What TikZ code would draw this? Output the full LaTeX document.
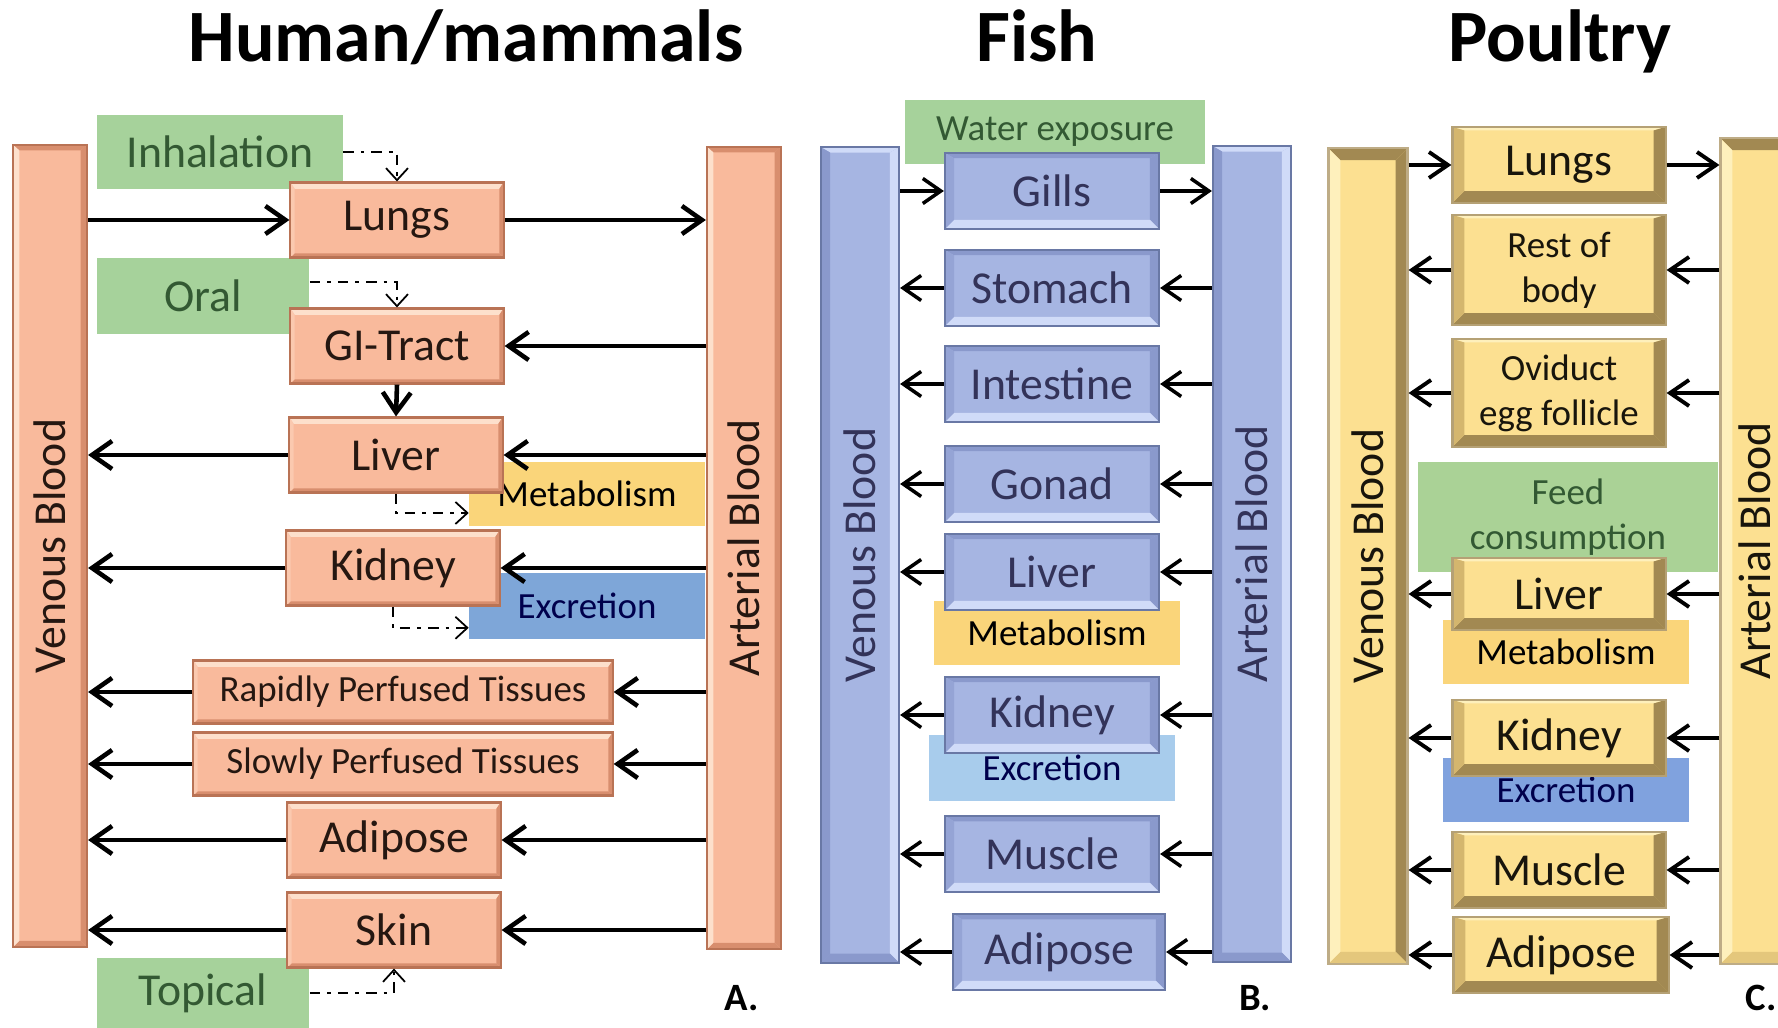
\documentclass[tikz,border=0pt]{standalone}
\usepackage{fontspec}
\setmainfont{Carlito}
\usepackage{tikz}
\usetikzlibrary{arrows.meta}

\definecolor{salmon}{RGB}{249,186,156}
\definecolor{salmonL}{RGB}{253,224,204}
\definecolor{salmonD}{RGB}{216,142,110}
\definecolor{salmonE}{RGB}{185,115,85}
\definecolor{leaf}{RGB}{166,210,155}
\definecolor{feed}{RGB}{170,210,150}
\definecolor{metab}{RGB}{250,213,122}
\definecolor{excr}{RGB}{126,166,216}
\definecolor{excrL}{RGB}{168,204,236}
\definecolor{excrC}{RGB}{128,162,222}
\definecolor{fishB}{RGB}{166,181,226}
\definecolor{fishL}{RGB}{208,219,248}
\definecolor{fishD}{RGB}{138,153,204}
\definecolor{fishE}{RGB}{105,120,165}
\definecolor{hen}{RGB}{252,224,145}
\definecolor{henL}{RGB}{254,240,188}
\definecolor{henM}{RGB}{212,182,110}
\definecolor{henD}{RGB}{162,137,82}

% bevel: top depth, side depth, top / right / bottom / left colours
\newcommand{\bevel}[6]{%
  \coordinate (bw) at (path picture bounding box.north west);
  \coordinate (be) at (path picture bounding box.north east);
  \coordinate (bs) at (path picture bounding box.south east);
  \coordinate (bv) at (path picture bounding box.south west);
  \fill[#3] (bw) -- (be) -- ([shift={(-#2,-#1)}]be) -- ([shift={(#2,-#1)}]bw) -- cycle;
  \fill[#4] (be) -- (bs) -- ([shift={(-#2,#2)}]bs) -- ([shift={(-#2,-#1)}]be) -- cycle;
  \fill[#5] (bs) -- (bv) -- ([shift={(#2,#2)}]bv) -- ([shift={(-#2,#2)}]bs) -- cycle;
  \fill[#6] (bv) -- (bw) -- ([shift={(#2,-#1)}]bw) -- ([shift={(#2,#2)}]bv) -- cycle;}

\begin{document}
\begin{tikzpicture}[x=0.01cm, y=-0.01cm,
    title/.style={font=\bfseries\fontsize{21}{25}\selectfont, anchor=base},
    panel/.style={font=\bfseries\fontsize{11}{13}\selectfont},
    big/.style={font=\fontsize{13}{15}\selectfont},
    small/.style={font=\fontsize{10.5}{12.8}\selectfont},
    organ/.style={rectangle, draw, line width=0.6pt, inner sep=1pt, align=center, big},
    boxA/.style={organ, fill=salmon, draw=salmonE, text=black!80!salmonE,
      minimum width=2.13cm, minimum height=0.75cm,
      path picture={\bevel{1.8pt}{1.2pt}{salmonL}{salmonD}{salmonD}{salmon!60!salmonL}}},
    boxB/.style={organ, fill=fishB, draw=fishE, text=black!75!blue!60!gray,
      minimum width=2.14cm, minimum height=0.76cm,
      path picture={\bevel{1.5pt}{2.6pt}{fishD}{fishD}{fishL}{fishD!60!fishB}}},
    boxC/.style={organ, fill=hen, draw=henD!80, text=black!85!henD,
      minimum width=2.13cm, minimum height=0.76cm,
      path picture={\bevel{1pt}{3.4pt}{henL}{henD}{henD}{henM}}},
    bar/.style={rectangle, draw, line width=0.6pt, inner sep=0pt, big},
    barA/.style={bar, fill=salmon, draw=salmonE, text=black!80!salmonE,
      minimum width=0.74cm, minimum height=8.02cm,
      path picture={\bevel{1.6pt}{1.8pt}{salmonD}{salmonD}{salmonD}{salmonL}}},
    barB/.style={bar, fill=fishB, draw=fishE, text=black!75!blue!60!gray,
      minimum width=0.78cm, minimum height=8.15cm,
      path picture={\bevel{1.5pt}{2.6pt}{fishL}{fishL}{fishD}{fishD}}},
    barC/.style={bar, fill=hen, draw=henD!70, text=black!85!henD,
      minimum width=0.79cm, minimum height=8.15cm,
      path picture={\bevel{3.4pt}{3.4pt}{henD}{henD}{henM!60!hen}{henL}}},
    route/.style={rectangle, fill=leaf, inner sep=1pt, align=center, text=black!75!green!60!gray, big},
    note/.style={rectangle, inner sep=1pt, align=center, small},
    arrA/.style={-{Straight Barb[length=2mm,width=2.8mm]}, line width=1.3pt},
    arrB/.style={-{Straight Barb[length=1.8mm,width=2.5mm]}, line width=1pt},
    arrC/.style={-{Straight Barb[length=1.9mm,width=2.6mm]}, line width=1.1pt},
    dashA/.style={-{Straight Barb[length=1.2mm,width=2.2mm]}, line width=0.5pt,
      dash pattern=on 3pt off 2pt on 1pt off 2pt}
]
\useasboundingbox (0,0) rectangle (1778,1028);

%% A : human / mammals
\node[title] (tA) at (466,62) {Human/mammals};
\node[barA] (venA) at (50,546) {\rotatebox{90}{Venous Blood}};
\node[barA] (artA) at (744,548) {\rotatebox{90}{Arterial Blood}};
\node[route, minimum width=2.45cm, minimum height=0.73cm] (inh) at (220,152) {Inhalation};
\node[route, minimum width=2.12cm, minimum height=0.75cm] (oral) at (203,296) {Oral};
\node[route, minimum width=2.12cm, minimum height=0.70cm] (topic) at (203,993) {Topical};
\node[note, fill=metab, minimum width=2.35cm, minimum height=0.63cm] (metA) at (587,494) {Metabolism};
\node[note, fill=excr, text=black!70!blue, minimum width=2.35cm, minimum height=0.65cm] (excA) at (587,606) {Excretion};
\node[boxA] (lungsA) at (397,220) {Lungs};
\node[boxA] (giA) at (397,346) {GI-Tract};
\node[boxA] (liverA) at (396,455) {Liver};
\node[boxA] (kidA) at (393,568) {Kidney};
\node[boxA, small, minimum width=4.19cm, minimum height=0.63cm] (rptA) at (403,692) {Rapidly Perfused Tissues};
\node[boxA, small, minimum width=4.19cm, minimum height=0.63cm] (sptA) at (403,764) {Slowly Perfused Tissues};
\node[boxA] (adiA) at (394,840) {Adipose};
\node[boxA] (skinA) at (394,930) {Skin};
\node[panel] (labA) at (742,998) {A.};

\draw[arrA] (venA.east |- lungsA.west) -- (lungsA.west);
\draw[arrA] (lungsA.east) -- (artA.west |- lungsA.east);
\draw[arrA] (artA.west |- giA.east) -- (giA.east);
\draw[arrA] (giA.south) -- (liverA.north);
\draw[arrA] (artA.west |- liverA.east) -- (liverA.east);
\draw[arrA] (liverA.west) -- (venA.east |- liverA.west);
\draw[arrA] (artA.west |- kidA.east) -- (kidA.east);
\draw[arrA] (kidA.west) -- (venA.east |- kidA.west);
\draw[arrA] (artA.west |- rptA.east) -- (rptA.east);
\draw[arrA] (rptA.west) -- (venA.east |- rptA.west);
\draw[arrA] (artA.west |- sptA.east) -- (sptA.east);
\draw[arrA] (sptA.west) -- (venA.east |- sptA.west);
\draw[arrA] (artA.west |- adiA.east) -- (adiA.east);
\draw[arrA] (adiA.west) -- (venA.east |- adiA.west);
\draw[arrA] (artA.west |- skinA.east) -- (skinA.east);
\draw[arrA] (skinA.west) -- (venA.east |- skinA.west);

\draw[dashA] (inh.east) -| (lungsA.north);
\draw[dashA] ([yshift=4pt]oral.east) -| (giA.north);
\draw[dashA] (liverA.south) |- ([yshift=-5.4pt]metA.west);
\draw[dashA] (kidA.south) |- ([yshift=-6.2pt]excA.west);
\draw[dashA] (topic.east) -| (skinA.south);

%% B : fish
\node[title] (tB) at (1037,62) {Fish};
\node[route, small, minimum width=3.0cm, minimum height=0.63cm] (water) at (1055,132) {Water exposure};
\node[barB] (venB) at (860,555) {\rotatebox{90}{Venous Blood}};
\node[barB] (artB) at (1252,554) {\rotatebox{90}{Arterial Blood}};
\node[note, fill=metab, minimum width=2.45cm, minimum height=0.63cm] (metB) at (1057,633) {Metabolism};
\node[note, fill=excrL, text=black!70!blue, minimum width=2.45cm, minimum height=0.65cm] (excB) at (1052,768) {Excretion};
\node[boxB] (gills) at (1052,191) {Gills};
\node[boxB] (stom) at (1052,288) {Stomach};
\node[boxB] (intes) at (1052,384) {Intestine};
\node[boxB] (gonad) at (1052,484) {Gonad};
\node[boxB] (liverB) at (1052,572) {Liver};
\node[boxB] (kidB) at (1052,715) {Kidney};
\node[boxB] (musB) at (1052,854) {Muscle};
\node[boxB, minimum width=2.12cm] (adiB) at (1059,952) {Adipose};
\node[panel] (labB) at (1255,998) {B.};

\draw[arrB] (venB.east |- gills.west) -- (gills.west);
\draw[arrB] (gills.east) -- (artB.west |- gills.east);
\draw[arrB] (artB.west |- stom.east) -- (stom.east);
\draw[arrB] (stom.west) -- (venB.east |- stom.west);
\draw[arrB] (artB.west |- intes.east) -- (intes.east);
\draw[arrB] (intes.west) -- (venB.east |- intes.west);
\draw[arrB] (artB.west |- gonad.east) -- (gonad.east);
\draw[arrB] (gonad.west) -- (venB.east |- gonad.west);
\draw[arrB] (artB.west |- liverB.east) -- (liverB.east);
\draw[arrB] (liverB.west) -- (venB.east |- liverB.west);
\draw[arrB] (artB.west |- kidB.east) -- (kidB.east);
\draw[arrB] (kidB.west) -- (venB.east |- kidB.west);
\draw[arrB] (artB.west |- musB.east) -- (musB.east);
\draw[arrB] (musB.west) -- (venB.east |- musB.west);
\draw[arrB] (artB.west |- adiB.east) -- (adiB.east);
\draw[arrB] (adiB.west) -- (venB.east |- adiB.west);

%% C : poultry
\node[title] (tC) at (1560,62) {Poultry};
\node[barC] (venC) at (1368,556) {\rotatebox{90}{Venous Blood}};
\node[barC, minimum height=8.25cm] (artC) at (1760,551) {\rotatebox{90}{Arterial Blood}\hspace*{0.1cm}};
\node[route, small, fill=feed, minimum width=2.99cm, minimum height=1.10cm] (feedC) at (1568,517) {Feed\\consumption};
\node[note, fill=metab, minimum width=2.45cm, minimum height=0.63cm] (metC) at (1566,652) {Metabolism};
\node[note, fill=excrC, text=black!70!blue, minimum width=2.45cm, minimum height=0.64cm] (excC) at (1566,790) {Excretion};
\node[boxC] (lungsC) at (1559,165) {Lungs};
\node[boxC, small, minimum height=1.10cm] (rest) at (1559,270) {Rest of\\body};
\node[boxC, small, minimum height=1.08cm] (ovi) at (1559,393) {Oviduct\\egg follicle};
\node[boxC, minimum height=0.72cm] (liverC) at (1559,594) {Liver};
\node[boxC] (kidC) at (1559,738) {Kidney};
\node[boxC] (musC) at (1559,870) {Muscle};
\node[boxC, minimum width=2.15cm] (adiC) at (1561,955) {Adipose};
\node[panel] (labC) at (1761,998) {C.};

\draw[arrC] (venC.east |- lungsC.west) -- (lungsC.west);
\draw[arrC] (lungsC.east) -- (artC.west |- lungsC.east);
\draw[arrC] (artC.west |- rest.east) -- (rest.east);
\draw[arrC] (rest.west) -- (venC.east |- rest.west);
\draw[arrC] (artC.west |- ovi.east) -- (ovi.east);
\draw[arrC] (ovi.west) -- (venC.east |- ovi.west);
\draw[arrC] (artC.west |- liverC.east) -- (liverC.east);
\draw[arrC] (liverC.west) -- (venC.east |- liverC.west);
\draw[arrC] (artC.west |- kidC.east) -- (kidC.east);
\draw[arrC] (kidC.west) -- (venC.east |- kidC.west);
\draw[arrC] (artC.west |- musC.east) -- (musC.east);
\draw[arrC] (musC.west) -- (venC.east |- musC.west);
\draw[arrC] (artC.west |- adiC.east) -- (adiC.east);
\draw[arrC] (adiC.west) -- (venC.east |- adiC.west);
\end{tikzpicture}
\end{document}
